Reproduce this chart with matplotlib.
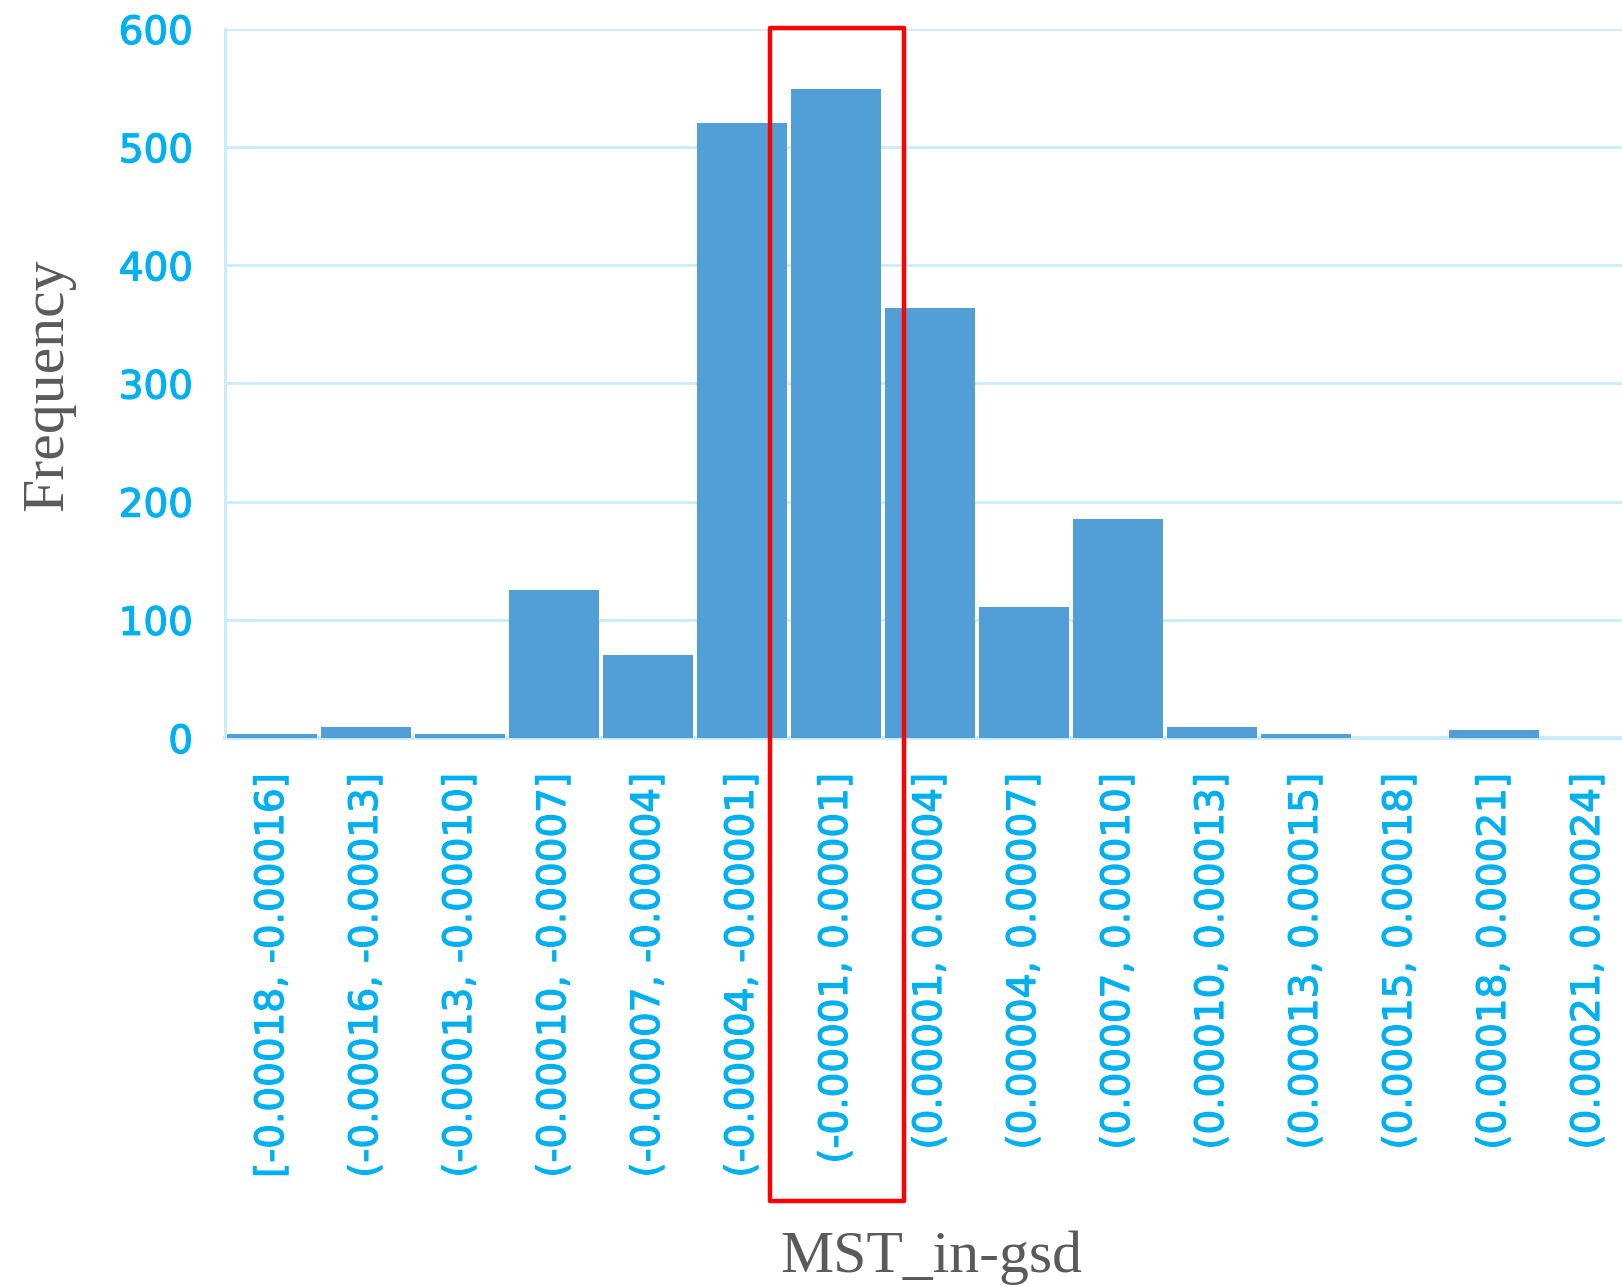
import matplotlib.pyplot as plt
import matplotlib.patheffects as pe
from matplotlib.patches import Rectangle
from matplotlib.transforms import blended_transform_factory

bins = [
    "[-0.00018, -0.00016]",
    "(-0.00016, -0.00013]",
    "(-0.00013, -0.00010]",
    "(-0.00010, -0.00007]",
    "(-0.00007, -0.00004]",
    "(-0.00004, -0.00001]",
    "(-0.00001, 0.00001]",
    "(0.00001, 0.00004]",
    "(0.00004, 0.00007]",
    "(0.00007, 0.00010]",
    "(0.00010, 0.00013]",
    "(0.00013, 0.00015]",
    "(0.00015, 0.00018]",
    "(0.00018, 0.00021]",
    "(0.00021, 0.00024]",
]
counts = [3, 9, 3, 125, 70, 520, 549, 364, 111, 185, 9, 3, 0, 7, 0]
y_ticks = [0, 100, 200, 300, 400, 500, 600]
highlight_bin = 6

bar_color = "#519fd6"
tick_color = "#00b0f0"
grid_color = "#c8ecfa"
title_color = "#5a5a5a"

fig = plt.figure(figsize=(16.22, 12.87), dpi=100)
# axes run past the right edge of the figure on purpose
ax = fig.add_axes([0.1387, 0.4266, 0.8693, 0.5509])

x = list(range(len(bins)))
ax.bar(x, counts, width=0.95, color=bar_color, zorder=3)

ax.set_xlim(-0.5, len(bins) - 0.5)
ax.set_ylim(0, 600)
ax.set_yticks(y_ticks)
ax.set_yticklabels([str(v) for v in y_ticks])
ax.set_xticks(x)
ax.set_xticklabels(bins, rotation=90, va="top", ha="center")

ax.yaxis.grid(True, color=grid_color, linewidth=2.0, zorder=0)
ax.set_axisbelow(True)

for side in ["top", "right"]:
    ax.spines[side].set_visible(False)
ax.spines["left"].set_color(grid_color)
ax.spines["left"].set_linewidth(2.2)
ax.spines["bottom"].set_color(grid_color)
ax.spines["bottom"].set_linewidth(3.0)

ax.tick_params(axis="y", length=0, pad=23, labelsize=28, labelcolor=tick_color)
ax.tick_params(axis="x", length=0, pad=25, labelsize=28, labelcolor=tick_color)

# slightly heavier strokes on the tick labels
thicken = [pe.withStroke(linewidth=0.9, foreground=tick_color)]
for lbl in ax.get_xticklabels() + ax.get_yticklabels():
    lbl.set_path_effects(thicken)

fig.text(48 / 1622, 1 - 385 / 1287, "Frequency", rotation=90, ha="center",
         va="center", fontsize=43, color=title_color, family="Liberation Serif")
fig.text(931 / 1622, 1 - 1258 / 1287, "MST_in-gsd", ha="center", va="center",
         fontsize=43, color=title_color, family="Liberation Serif")

# red frame around the central bin, reaching down through its tick label
trans = blended_transform_factory(ax.transData, ax.transAxes)
frame = Rectangle((highlight_bin - 0.70, -0.653), 1.42, 1.655, transform=trans,
                  fill=False, edgecolor="#ff0000", linewidth=3.2,
                  joinstyle="round", clip_on=False, zorder=10)
ax.add_patch(frame)

fig.savefig("out.png", dpi=100)
